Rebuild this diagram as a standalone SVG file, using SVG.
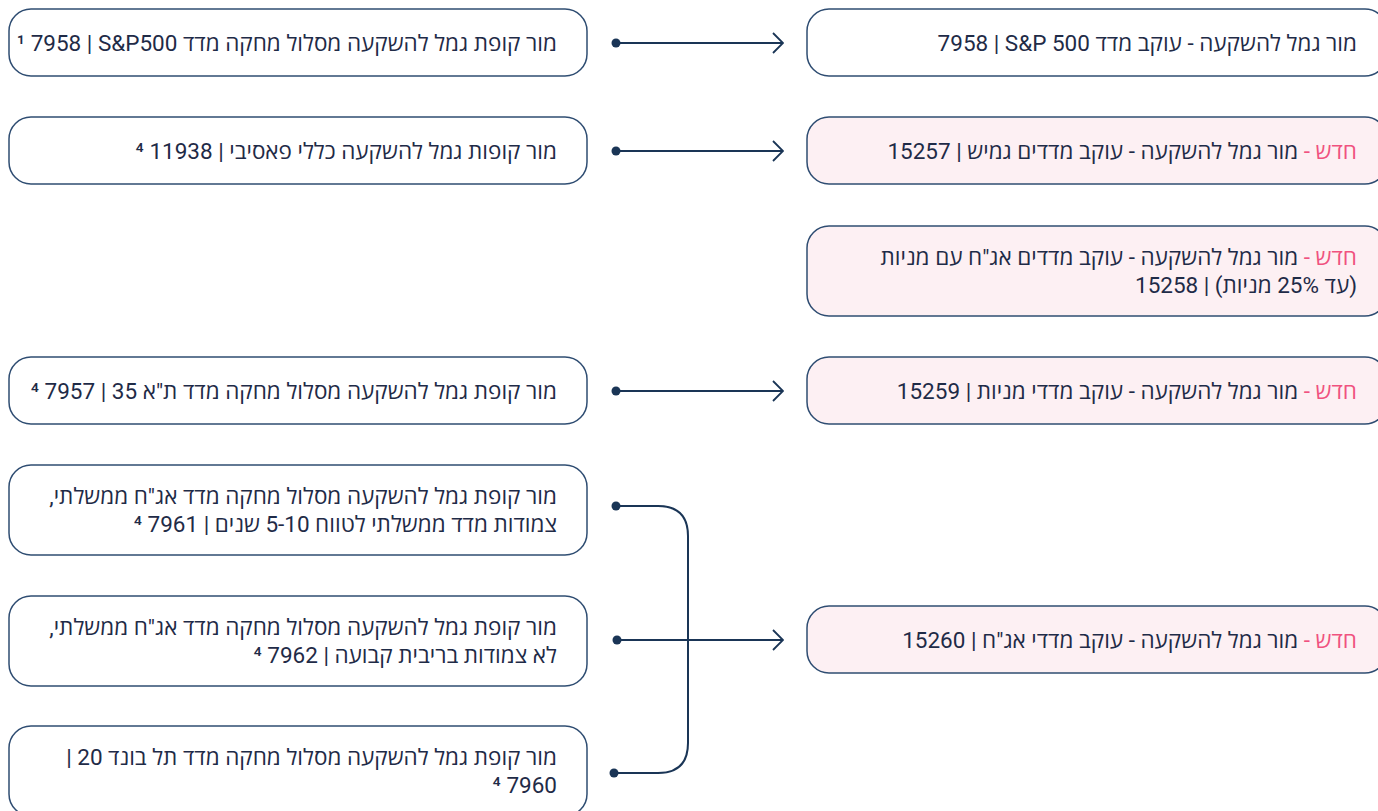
<svg xmlns="http://www.w3.org/2000/svg" width="1378" height="811" viewBox="0 0 1378 811">
<defs>
<style>
.box{fill:#ffffff;stroke:#2f4d72;stroke-width:1.5}
.new{fill:#fdf0f3;stroke:#2f4d72;stroke-width:1.5}
.t{font-family:Roboto,"Open Sans","Liberation Sans",sans-serif;font-size:22.5px;fill:#1f2b47;direction:rtl;text-anchor:start}
.pink{fill:#f0527f}
.c{fill:none;stroke:#1a3556;stroke-width:2}
.dot{fill:#1a3556}
</style>
<marker id="arr" viewBox="0 0 12 22" refX="11" refY="11" markerWidth="12" markerHeight="22" markerUnits="userSpaceOnUse" orient="auto">
<path d="M1,1 L11,11 L1,21" fill="none" stroke="#1a3556" stroke-width="1.8"/>
</marker>
</defs>
<rect width="1378" height="811" fill="#ffffff"/>

<g id="connectors">
<path class="c" d="M616,43 H783" marker-end="url(#arr)"/>
<circle class="dot" cx="616" cy="43" r="4.5"/>
<path class="c" d="M616,151 H783" marker-end="url(#arr)"/>
<circle class="dot" cx="616" cy="151" r="4.5"/>
<path class="c" d="M616,391 H783" marker-end="url(#arr)"/>
<circle class="dot" cx="616" cy="391" r="4.5"/>
<path class="c" d="M616,506 H658 Q688,506 688,536 V743 Q688,773 658,773 H614"/>
<circle class="dot" cx="616" cy="506" r="4.5"/>
<circle class="dot" cx="614" cy="773" r="4.5"/>
<path class="c" d="M617,640 H783" marker-end="url(#arr)"/>
<circle class="dot" cx="617" cy="640" r="4.5"/>
</g>

<g id="left1">
<rect class="box" x="9" y="9" width="578" height="67" rx="22"/>
<text class="t" x="557" y="51">מור קופת גמל להשקעה מסלול מחקה מדד S&amp;P500&#x200F; | 7958 ¹</text>
</g>
<g id="left2">
<rect class="box" x="9" y="117" width="578" height="67" rx="22"/>
<text class="t" x="557" y="159">מור קופות גמל להשקעה כללי פאסיבי | 11938 ⁴</text>
</g>
<g id="left3">
<rect class="box" x="9" y="357" width="578" height="67" rx="22"/>
<text class="t" x="557" y="399">מור קופת גמל להשקעה מסלול מחקה מדד ת"א 35 | 7957 ⁴</text>
</g>
<g id="left4">
<rect class="box" x="9" y="465" width="578" height="90" rx="22"/>
<text class="t" x="557" y="504">מור קופת גמל להשקעה מסלול מחקה מדד אג"ח ממשלתי,</text>
<text class="t" x="557" y="532">צמודות מדד ממשלתי לטווח 5-10 שנים | 7961 ⁴</text>
</g>
<g id="left5">
<rect class="box" x="9" y="596" width="578" height="90" rx="22"/>
<text class="t" x="557" y="635">מור קופת גמל להשקעה מסלול מחקה מדד אג"ח ממשלתי,</text>
<text class="t" x="557" y="663">לא צמודות בריבית קבועה | 7962 ⁴</text>
</g>
<g id="left6">
<rect class="box" x="9" y="726" width="578" height="90" rx="22"/>
<text class="t" x="557" y="765">מור קופת גמל להשקעה מסלול מחקה מדד תל בונד 20 |</text>
<text class="t" x="557" y="793">7960 ⁴</text>
</g>

<g id="right1">
<rect class="box" x="807" y="9" width="580" height="67" rx="22"/>
<text class="t" x="1357" y="51">מור גמל להשקעה - עוקב מדד S&amp;P 500&#x200F; | 7958</text>
</g>
<g id="right2">
<rect class="new" x="807" y="117" width="580" height="67" rx="22"/>
<text class="t" x="1357" y="159"><tspan class="pink">חדש -</tspan> מור גמל להשקעה - עוקב מדדים גמיש | 15257</text>
</g>
<g id="right3">
<rect class="new" x="807" y="226" width="580" height="90" rx="22"/>
<text class="t" x="1357" y="265"><tspan class="pink">חדש -</tspan> מור גמל להשקעה - עוקב מדדים אג"ח עם מניות</text>
<text class="t" x="1357" y="293">(עד 25% מניות) | 15258</text>
</g>
<g id="right4">
<rect class="new" x="807" y="357" width="580" height="67" rx="22"/>
<text class="t" x="1357" y="399"><tspan class="pink">חדש -</tspan> מור גמל להשקעה - עוקב מדדי מניות | 15259</text>
</g>
<g id="right5">
<rect class="new" x="807" y="606" width="580" height="67" rx="22"/>
<text class="t" x="1357" y="648"><tspan class="pink">חדש -</tspan> מור גמל להשקעה - עוקב מדדי אג"ח | 15260</text>
</g>
</svg>
